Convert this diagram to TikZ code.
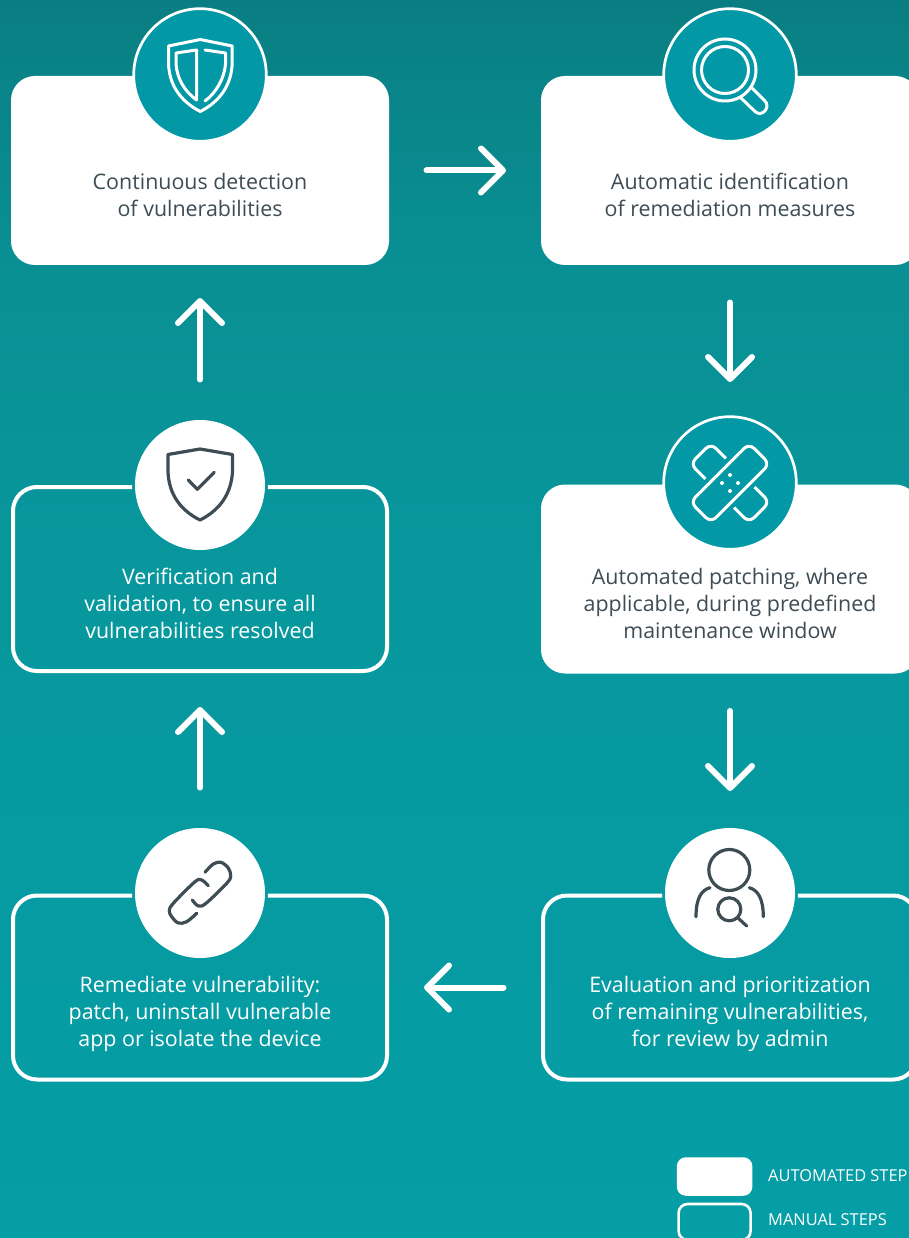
\documentclass[tikz,border=0pt]{standalone}
\usepackage{fontspec}
\setmainfont{Open Sans}
\usetikzlibrary{arrows.meta,calc}
\definecolor{disc}{RGB}{3,152,165}
\definecolor{ink}{RGB}{62,76,84}
\definecolor{bgA}{RGB}{5,158,166}
\definecolor{bgB}{RGB}{7,152,158}
\definecolor{bgC}{RGB}{9,143,147}
\definecolor{bgD}{RGB}{9,126,130}
\pgfdeclareverticalshading{pagebg}{100bp}{
  color(0bp)=(bgA);
  color(25bp)=(bgA);
  color(50bp)=(bgB);
  color(65bp)=(bgC);
  color(75bp)=(bgD);
  color(100bp)=(bgD)}
\tikzset{
  x=1pt,y=-1pt,
  boxbase/.style={rectangle,rounded corners=#1,inner sep=0pt,outer sep=0pt},
  autobox/.style={boxbase=24pt,fill=white,minimum width=378pt,minimum height=189pt},
  manualbox/.style={boxbase=24pt,draw=white,line width=4pt,minimum width=374pt,minimum height=184pt},
  tealdisc/.style={circle,inner sep=0pt,outer sep=0pt,minimum size=132.6pt,fill=disc,draw=white,line width=2.7pt},
  whitedisc/.style={circle,inner sep=0pt,outer sep=0pt,minimum size=130pt,fill=white},
  flow/.style={draw=white,line width=6pt,line cap=round,-{Straight Barb[length=22pt,width=44pt,round]}},
  darktext/.style={text=ink,align=center,font=\fontsize{21.4}{27}\selectfont,inner sep=0pt},
  lighttext/.style={text=white,align=center,font=\fontsize{21.4}{27}\selectfont,inner sep=0pt},
  legendtext/.style={text=white,anchor=west,font=\fontsize{16.4}{20}\selectfont,inner sep=0pt},
  iconw/.style={draw=white,line width=3pt,line cap=round,line join=round},
  icond/.style={draw=ink,line width=3.2pt,line cap=round,line join=round},
}
\begin{document}
\begin{tikzpicture}
\useasboundingbox (0,0) rectangle (909,1238);
\clip (0,0) rectangle (909,1238);
\shade[shading=pagebg] (0,0) rectangle (909,1238);

% boxes
\node[autobox] (b1) at (200,170.5) {};
\node[autobox] (b2) at (730,170.5) {};
\node[autobox] (b3) at (730,579) {};
\begin{scope}[even odd rule]
  \clip (0,0) rectangle (909,1238) (200,485) circle[radius=68] (200,893) circle[radius=68] (730,893) circle[radius=68];
  \node[manualbox] (b4) at (200,579) {};
  \node[manualbox] (b5) at (200,987.5) {};
  \node[manualbox] (b6) at (730,987.5) {};
\end{scope}

% discs
\node[tealdisc] (c1) at (200,75) {};
\node[tealdisc] (c2) at (730,75) {};
\node[tealdisc] (c3) at (730,483) {};
\node[whitedisc] (c4) at (200,485) {};
\node[whitedisc] (c5) at (200,893) {};
\node[whitedisc] (c6) at (730,893) {};

% texts
\node[darktext] (t1) at (200,195) {Continuous detection\\of vulnerabilities};
\node[darktext] (t2) at (730,195) {Automatic identification\\of remediation measures};
\node[darktext] (t3) at (730,603) {Automated patching, where\\applicable, during predefined\\maintenance window};
\node[lighttext] (t4) at (200,603.5) {Verification and\\validation, to ensure all\\vulnerabilities resolved};
\node[lighttext] (t5) at (200,1013.5) {Remediate vulnerability:\\patch, uninstall vulnerable\\app or isolate the device};
\node[lighttext] (t6) at (730,1013.5) {Evaluation and prioritization\\of remaining vulnerabilities,\\for review by admin};

% connectors
\draw[flow] ([xshift=37.5pt]b1.east) -- ([xshift=-35pt]b2.west);
\draw[flow] ([yshift=-37.5pt]b2.south) -- ([yshift=34.7pt]c3.north);
\draw[flow] ([yshift=-37.5pt]b3.south) -- ([yshift=37pt]c6.north);
\draw[flow] ([xshift=-39.5pt]b6.west) -- ([xshift=37pt]b5.east);
\draw[flow] ([yshift=40.5pt]c5.north) -- ([yshift=-36pt]b4.south);
\draw[flow] ([yshift=40.5pt]c4.north) -- ([yshift=-33pt]b1.south);

% shield icon
\draw[iconw] (200.3,39.5) -- (168.5,46) -- (168.5,64) .. controls (169.5,85) and (180,101) .. (200.3,111.5) .. controls (220.6,101) and (231,85) .. (232.2,64) -- (232.2,46) -- cycle;
\draw[iconw] (196.5,50) -- (176,53) -- (176,64) .. controls (177,78) and (184,91) .. (196.5,100) -- cycle;
\draw[iconw] (205,50) -- (225.5,53) -- (225.5,64) .. controls (224.5,78) and (216,93) .. (205,101);

% magnifier icon
\draw[iconw] (725,70) circle[radius=31];
\draw[iconw] (725,70) circle[radius=23.5];
\draw[iconw] (751.5,87.5) -- (765,101) .. controls (771,107) and (762,118) .. (755,111.5) -- (741,98);

% bandage icon
\begin{scope}[shift={(730,483)}]
  \draw[iconw,rotate=-45,rounded corners=7pt] (-41.5,-14.5) rectangle (41.5,14.5);
  \begin{scope}[rotate=45]
    \draw[disc,line width=11pt,line join=round,rounded corners=7pt] (-41.5,-14.5) rectangle (41.5,14.5);
    \fill[disc,rounded corners=7pt] (-41.5,-14.5) rectangle (41.5,14.5);
    \draw[iconw,rounded corners=7pt] (-41.5,-14.5) rectangle (41.5,14.5);
  \end{scope}
  \fill[white] (0,-8) circle[radius=2] (0,8) circle[radius=2] (-8,0) circle[radius=2] (8,0) circle[radius=2];
\end{scope}

% shield check icon
\draw[icond] (200,449) -- (168,454.5) -- (168,472) .. controls (169,494) and (180,510) .. (200,520) .. controls (220,510) and (231,494) .. (232.5,472) -- (232.5,454.5) -- cycle;
\draw[icond] (188.3,480) -- (197.3,489.3) -- (214.3,472.3);

% link icon
\draw[icond,smooth,tension=.55] plot coordinates {(205,872.3) (213.3,864) (221,862.3) (228.3,868) (230.7,876) (226.7,883.3) (206,903.3) (198.3,906) (192.3,900)};
\draw[icond,smooth,tension=.55] plot coordinates {(208.3,885.7) (201.7,880) (195,881.7) (173.3,903.3) (169.3,910.7) (171.7,916.7) (178.3,923) (186.7,921.7) (196.7,913.3)};

% user icon
\draw[icond] (729.3,870) circle[radius=20.5];
\draw[icond] (710,887.7) .. controls (701,890) and (696,899) .. (696,916.7);
\draw[icond] (749.3,887.7) .. controls (758,890) and (763.3,899) .. (763.3,916.7);
\draw[icond] (729.3,909.3) circle[radius=11.5];
\draw[icond] (738.3,918.3) -- (746.7,926);

% legend
\node[boxbase=9pt,fill=white,minimum width=75.5pt,minimum height=38.5pt] (l1) at (714.6,1176.5) {};
\node[boxbase=9pt,draw=white,line width=2.6pt,minimum width=72pt,minimum height=36pt] (l2) at (714.6,1222) {};
\node[legendtext] (lt1) at (768,1175.5) {AUTOMATED STEP};
\node[legendtext] (lt2) at (768,1220) {MANUAL STEPS};
\end{tikzpicture}
\end{document}
